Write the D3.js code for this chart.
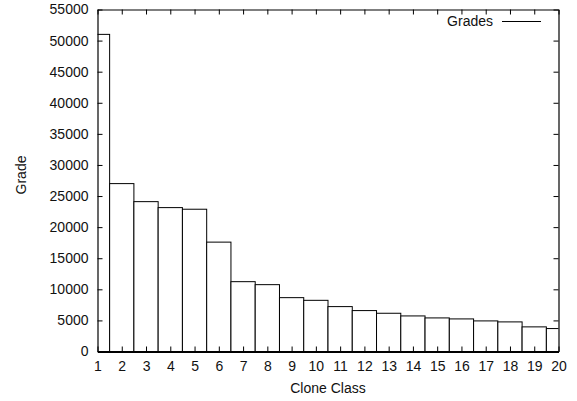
<!DOCTYPE html>
<html><head><meta charset="utf-8">
<script src="https://cdn.jsdelivr.net/npm/d3@7"></script>
<style>html,body{margin:0;padding:0;background:#fff;}svg{display:block;font-family:"Liberation Sans",Arial,sans-serif;}</style>
</head><body>
<script>
const categories = [1,2,3,4,5,6,7,8,9,10,11,12,13,14,15,16,17,18,19,20];
const grades = [51000,27000,24100,23140,22880,17590,11230,10750,8660,8230,7220,6580,6150,5720,5400,5240,4920,4760,3960,3690];
const yTicks = [0,5000,10000,15000,20000,25000,30000,35000,40000,45000,50000,55000];
const xTicks = categories;

const W = 577, H = 401;
const pL = 97.5, pR = 558.5, pT = 9.5, pB = 351.5;
const svg = d3.select("body").append("svg").attr("width", W).attr("height", H);
const x = d3.scaleLinear().domain([1,20]).range([pL,pR]);
const y = d3.scaleLinear().domain([0,55000]).range([pB,pT]);

svg.append("clipPath").attr("id","clip").append("rect")
  .attr("x",pL).attr("y",pT).attr("width",pR-pL).attr("height",pB-pT);

svg.append("g").attr("clip-path","url(#clip)").selectAll("rect").data(categories).join("rect")
  .attr("x", (d)=>x(d-0.5)).attr("width",(d)=>x(d+0.5)-x(d-0.5))
  .attr("y",(d,i)=>y(grades[i])).attr("height",(d,i)=>y(0)-y(grades[i]))
  .attr("fill","#fff").attr("stroke","#000").attr("stroke-width",1);

const fs = 14;
const fmt = d3.format("d");
const axL = d3.axisLeft(y).tickValues(yTicks).tickFormat(fmt).tickSizeInner(-5).tickSizeOuter(0).tickPadding(10);
const gL = svg.append("g").attr("transform",`translate(${pL},0)`).call(axL);
const axR = d3.axisRight(y).tickValues(yTicks).tickSizeInner(-5).tickSizeOuter(0).tickFormat("");
const gR = svg.append("g").attr("transform",`translate(${pR},0)`).call(axR);
const axB = d3.axisBottom(x).tickValues(xTicks).tickFormat(fmt).tickSizeInner(-5).tickSizeOuter(0).tickPadding(10);
const gB = svg.append("g").attr("transform",`translate(0,${pB})`).call(axB);
const axT = d3.axisTop(x).tickValues(xTicks).tickSizeInner(-5).tickSizeOuter(0).tickFormat("");
const gT = svg.append("g").attr("transform",`translate(0,${pT})`).call(axT);
[gL,gR,gB,gT].forEach(g=>{
  g.select(".domain").attr("stroke","#000").attr("stroke-width",1.2);
  g.selectAll(".tick line").attr("stroke","#000");
  g.selectAll(".tick text").attr("font-size",fs).attr("font-family","Liberation Sans, Arial, sans-serif").attr("fill","#111");
});
gL.selectAll(".tick text").attr("x",-9);
gB.select(".domain").attr("stroke-width",2);

svg.append("text").attr("x",328).attr("y",393).attr("text-anchor","middle").attr("fill","#111")
  .attr("font-size",fs).text("Clone Class");
svg.append("text").attr("transform",`translate(26,175) rotate(-90)`).attr("text-anchor","middle").attr("fill","#111")
  .attr("font-size",fs).text("Grade");

svg.append("text").attr("x",493).attr("y",26).attr("text-anchor","end").attr("font-size",fs).attr("fill","#111").text("Grades");
svg.append("line").attr("x1",502).attr("x2",541).attr("y1",21.5).attr("y2",21.5).attr("stroke","#000").attr("stroke-width",1);
</script>
</body></html>
